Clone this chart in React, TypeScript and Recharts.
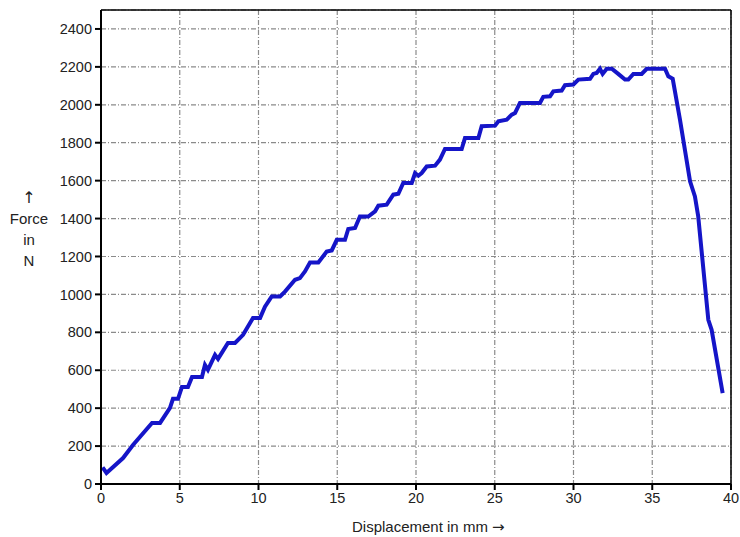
import React from 'react';
import { LineChart, Line, XAxis, YAxis, CartesianGrid, ReferenceLine } from 'recharts';

// displacement (mm) and force (N)
const displacement = [
  0.1, 0.35, 1.4, 2.03, 3.24, 3.75, 4.38, 4.57, 4.89, 5.14, 5.52, 5.78, 6.41, 6.6, 6.79, 7.24, 7.43,
  8.06, 8.51, 9.02, 9.65, 10.1, 10.41, 10.84, 11.37, 11.68, 12.32, 12.63, 12.95, 13.27, 13.8, 14.33,
  14.65, 14.97, 15.49, 15.7, 16.13, 16.44, 16.97, 17.4, 17.61, 18.14, 18.56, 18.88, 19.19, 19.73,
  19.94, 20.15, 20.36, 20.68, 21.21, 21.52, 21.84, 22.9, 23.11, 23.96, 24.17, 25.02, 25.23, 25.76,
  26.08, 26.29, 26.6, 27.87, 28.08, 28.51, 28.72, 29.25, 29.46, 29.99, 30.31, 31.05, 31.26, 31.47,
  31.68, 31.85, 32.11, 32.43, 32.84, 33.27, 33.48, 33.8, 34.33, 34.65, 35.81, 36.02, 36.3, 36.76,
  37.4, 37.71, 37.92, 38.56, 38.77, 39.47,
];
const force = [
  88, 58, 137, 206, 322, 322, 401, 449, 449, 512, 512, 565, 565, 628, 602, 681, 660,
  744, 744, 787, 876, 876, 935, 989, 989, 1015, 1077, 1086, 1121, 1168, 1168, 1226,
  1232, 1288, 1288, 1345, 1350, 1411, 1411, 1438, 1468, 1473, 1526, 1531, 1588, 1588,
  1640, 1626, 1640, 1675, 1679, 1711, 1767, 1767, 1825, 1825, 1887, 1890, 1913, 1922,
  1948, 1957, 2010, 2010, 2042, 2045, 2071, 2075, 2103, 2107, 2133, 2137, 2163, 2168,
  2190, 2163, 2190, 2190, 2163, 2133, 2133, 2163, 2163, 2190, 2190, 2150, 2137, 1922,
  1596, 1517, 1411, 866, 813, 479,
];

const xTicks = [0, 5, 10, 15, 20, 25, 30, 35, 40];
const yTicks = [0, 200, 400, 600, 800, 1000, 1200, 1400, 1600, 1800, 2000, 2200, 2400];

const data = displacement.map((d, i) => ({ d, f: force[i] }));

const font = 'Arial, "Liberation Sans", sans-serif';
const arrowFont = '"DejaVu Sans", sans-serif';
const tickStyle = { fill: '#222', fontSize: 14.5, fontFamily: font };

export default function App() {
  return (
    <div style={{ position: 'absolute', left: 0, top: 0, width: 740, height: 537, background: '#fff', fontFamily: font }}>
      <LineChart width={740} height={537} data={data} margin={{ top: 10, right: 9, bottom: 0, left: 0 }}>
        <CartesianGrid stroke="#8a8a8a" strokeDasharray="5 2 1 2" strokeWidth={1.2} />
        <XAxis
          dataKey="d"
          type="number"
          domain={[0, 40]}
          ticks={xTicks}
          height={53}
          tick={tickStyle}
          tickSize={6}
          tickMargin={3}
          axisLine={{ stroke: '#000', strokeWidth: 2 }}
          tickLine={{ stroke: '#000', strokeWidth: 2 }}
        />
        <YAxis
          type="number"
          domain={[0, 2500]}
          ticks={yTicks}
          width={101}
          tick={tickStyle}
          tickSize={6}
          tickMargin={3}
          axisLine={{ stroke: '#000', strokeWidth: 2 }}
          tickLine={{ stroke: '#000', strokeWidth: 2 }}
        />
        <ReferenceLine y={2500} stroke="#000" strokeWidth={1.5} />
        <ReferenceLine x={40} stroke="#000" strokeWidth={1.5} />
        <Line
          dataKey="f"
          type="linear"
          stroke="#1515c8"
          strokeWidth={4}
          dot={false}
          isAnimationActive={false}
        />
      </LineChart>
      <div style={{ position: 'absolute', left: 0, width: 58, top: 187, textAlign: 'center', fontSize: 15, color: '#222', lineHeight: '21px' }}>
        <div style={{ fontFamily: arrowFont, fontSize: 16 }}>↑</div>
        <div>Force</div>
        <div>in</div>
        <div>N</div>
      </div>
      <div style={{ position: 'absolute', left: 352, top: 518, fontSize: 15, color: '#222', whiteSpace: 'nowrap' }}>
        Displacement in mm <span style={{ fontFamily: arrowFont, fontSize: 15 }}>→</span>
      </div>
    </div>
  );
}
